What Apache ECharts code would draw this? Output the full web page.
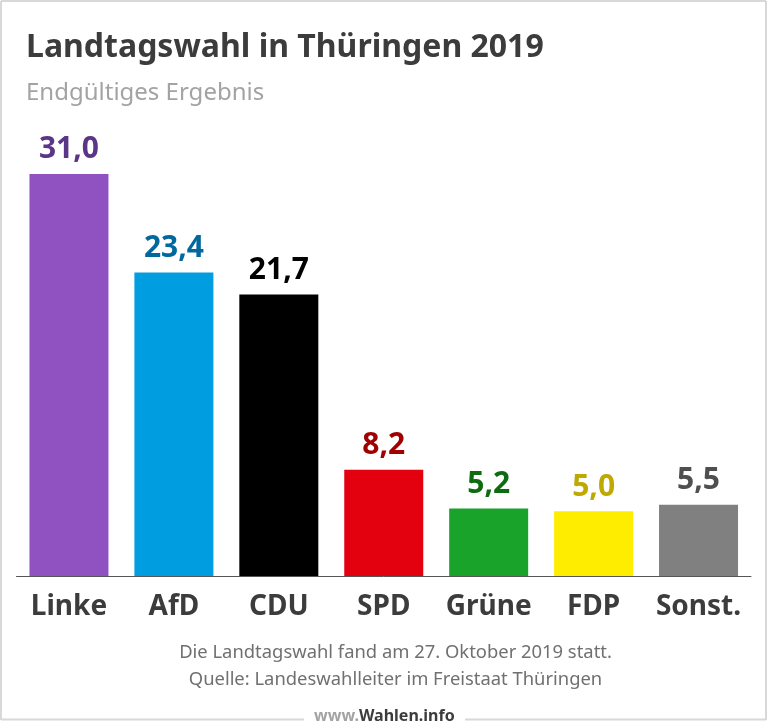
<!DOCTYPE html>
<html>
<head>
<meta charset="utf-8">
<style>
  html, body { margin: 0; padding: 0; background: #fff; }
  #chart { width: 768px; height: 721px; }
</style>
<script src="https://cdn.jsdelivr.net/npm/echarts@6/dist/echarts.min.js"></script>
</head>
<body>
<div id="chart"></div>
<script>
const parties = ["Linke", "AfD", "CDU", "SPD", "Grüne", "FDP", "Sonst."];
const results = [31.0, 23.4, 21.7, 8.2, 5.2, 5.0, 5.5];
const barColors = ["#8f52c0", "#009ee0", "#000000", "#e3000f", "#1aa32a", "#ffed00", "#808080"];
const labelColors = ["#5b3587", "#00689c", "#000000", "#a00000", "#0f6b10", "#bfa900", "#4f4f4f"];

const fontName = "Noto Sans";
const chart = echarts.init(document.querySelector("#chart"));

chart.setOption({
  backgroundColor: "#fff",
  animation: false,
  textStyle: { fontFamily: fontName },
  grid: { left: 16.5, right: 17, top: 122, height: 454 },
  xAxis: {
    type: "category",
    data: parties,
    axisTick: { show: false },
    axisLine: { lineStyle: { color: "#555", width: 1 } },
    axisLabel: { color: "#3c3c3c", fontSize: 28, fontWeight: "bold", margin: 17, interval: 0 },
  },
  yAxis: { type: "value", min: 0, max: 35, show: false },
  series: [
    {
      type: "bar",
      barWidth: 79,
      data: results.map((value, index) => ({
        value,
        itemStyle: { color: barColors[index] },
        label: { color: labelColors[index] },
      })),
      label: {
        show: true,
        position: "top",
        distance: 9,
        fontSize: 30,
        fontWeight: "bold",
        formatter: (p) => p.value.toFixed(1).replace(".", ","),
      },
    },
  ],
  graphic: [
    // frame, bottom edge leaves a gap for the site name
    { type: "line", shape: { x1: 1, y1: 1, x2: 766, y2: 1 }, style: { stroke: "#d8d8d8", lineWidth: 2 } },
    { type: "line", shape: { x1: 1, y1: 1, x2: 1, y2: 720 }, style: { stroke: "#d8d8d8", lineWidth: 2 } },
    { type: "line", shape: { x1: 766, y1: 1, x2: 766, y2: 720 }, style: { stroke: "#d8d8d8", lineWidth: 2 } },
    { type: "line", shape: { x1: 1, y1: 719.5, x2: 304, y2: 719.5 }, style: { stroke: "#d8d8d8", lineWidth: 2 } },
    { type: "line", shape: { x1: 465, y1: 719.5, x2: 766, y2: 719.5 }, style: { stroke: "#d8d8d8", lineWidth: 2 } },
    {
      type: "text", left: 26, top: 32,
      style: { text: "Landtagswahl in Thüringen 2019", fill: "#3c3c3c", font: `bold 32px ${fontName}` },
    },
    {
      type: "text", left: 26, top: 81,
      style: { text: "Endgültiges Ergebnis", fill: "#a3a3a3", font: `24px ${fontName}` },
    },
    {
      type: "text", x: 395.5, y: 644,
      style: { text: "Die Landtagswahl fand am 27. Oktober 2019 statt.", fill: "#707070", font: `18.4px ${fontName}`, align: "center" },
    },
    {
      type: "text", x: 395.5, y: 671,
      style: { text: "Quelle: Landeswahlleiter im Freistaat Thüringen", fill: "#707070", font: `18.4px ${fontName}`, align: "center" },
    },
    {
      type: "text", x: 314, y: 708,
      style: {
        text: "{a|www.}{b|Wahlen.info}",
        rich: {
          a: { fill: "#a3a3a3", font: `bold 16px ${fontName}` },
          b: { fill: "#3c3c3c", font: `bold 16px ${fontName}` },
        },
      },
    },
  ],
});
</script>
</body>
</html>
